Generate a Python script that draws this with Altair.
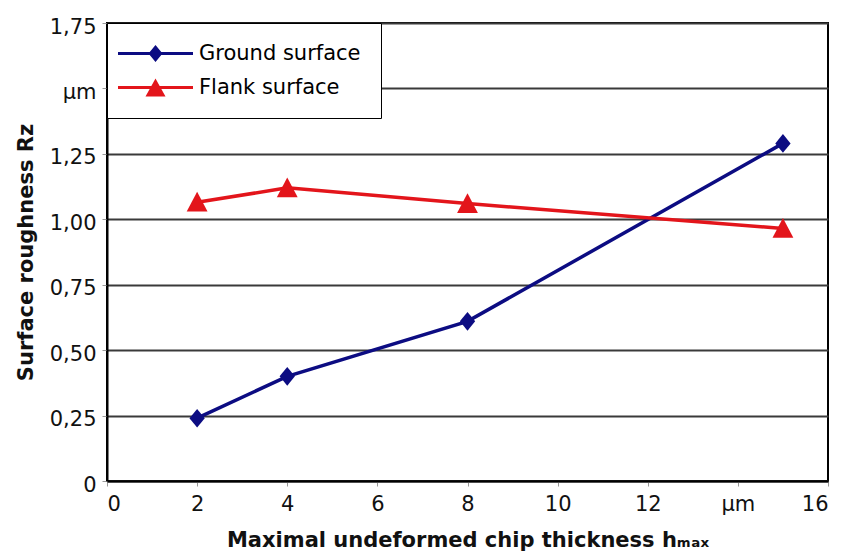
import altair as alt
import pandas as pd

# ---- data ----
x_vals = [2, 4, 8, 15]
ground = [0.24, 0.40, 0.61, 1.29]
flank = [1.065, 1.12, 1.06, 0.965]
series = ["Ground surface", "Flank surface"]
x_ticks = [0, 2, 4, 6, 8, 10, 12, 14, 16]
y_ticks = [0, 0.25, 0.5, 0.75, 1.0, 1.25, 1.5, 1.75]

colors = ["#0c0c82", "#e3151b"]
marker_paths = ["M0,-1.7L1.4,0L0,1.7L-1.4,0Z", "M0,-1.9L1.9,1.7L-1.9,1.7Z"]
# legend symbols: a filled bar (the line) plus the marker, same winding
legend_paths = [
    "M-7.5,-0.3L7.5,-0.3L7.5,0.3L-7.5,0.3Z M0,-1.7L1.4,0L0,1.7L-1.4,0Z",
    "M-7.5,-0.3L7.5,-0.3L7.5,0.3L-7.5,0.3Z M0,-1.8L2,1.8L-2,1.8Z",
]

df = pd.DataFrame({
    "x": x_vals * 2,
    "y": ground + flank,
    "s": [series[0]] * len(x_vals) + [series[1]] * len(x_vals),
})

FONT = "DejaVu Sans"

x_enc = alt.X("x:Q", scale=alt.Scale(domain=[0, 16], nice=False, zero=True),
              axis=alt.Axis(values=x_ticks, grid=False,
                            labelExpr="datum.value == 14 ? 'µm' : datum.label",
                            title="Maximal undeformed chip thickness hₘₐₓ",
                            tickSize=5, tickColor="#999999", labelPadding=7,
                            titlePadding=15))
y_enc = alt.Y("y:Q", scale=alt.Scale(domain=[0, 1.75], nice=False, zero=True),
              axis=alt.Axis(values=y_ticks, grid=True,
                            labelExpr="datum.value == 1.5 ? 'µm' : (datum.value == 0 ? '0' : replace(format(datum.value, '.2f'), '.', ','))",
                            title="Surface roughness Rz",
                            tickSize=5, tickColor="#999999", labelPadding=6,
                            labelOffset=4, titlePadding=13))

base = alt.Chart(df)

color_scale = alt.Scale(domain=series, range=colors)

lines = base.mark_line(strokeWidth=3.5).encode(
    x=x_enc, y=y_enc,
    color=alt.Color("s:N", scale=color_scale, legend=None),
)

point_layers = [
    base.transform_filter(alt.datum.s == name).mark_point(
        filled=True, size=120, opacity=1, shape=path, color=col
    ).encode(x=x_enc, y=y_enc)
    for name, path, col in zip(series, marker_paths, colors)
]

leg = alt.Legend(
    orient="none", legendX=0, legendY=0, title=None,
    fillColor="white", strokeColor="black", padding=20,
    symbolOffset=18, labelOffset=33, labelLimit=400,
    labelFont=FONT, labelFontSize=21, labelColor="black",
    symbolSize=100, symbolStrokeWidth=0, symbolOpacity=1, rowPadding=12,
)

legend_layer = base.mark_point(filled=True, size=0).encode(
    x=x_enc, y=y_enc,
    fill=alt.Fill("s:N", scale=alt.Scale(domain=series, range=colors), legend=leg),
    shape=alt.Shape("s:N", scale=alt.Scale(domain=series, range=legend_paths), legend=leg),
)

chart = alt.layer(lines, *point_layers, legend_layer).resolve_scale(
    fill="independent", shape="independent", color="independent"
).properties(
    width=721, height=458,
    background="white",
    autosize=alt.AutoSizeParams(type="none"),
    padding={"left": 107, "top": 23, "right": 20, "bottom": 77},
).configure_view(
    stroke="black", strokeWidth=2
).configure_axis(
    labelFont=FONT, labelFontSize=21, labelColor="#111111",
    titleFont=FONT, titleFontSize=21, titleFontWeight="bold", titleColor="#111111",
    gridColor="#3a3a3a", gridWidth=2, gridOpacity=1,
    domainColor="black", domainWidth=2,
)

chart.save("out.html", embed_options={"renderer": "svg", "actions": False})
